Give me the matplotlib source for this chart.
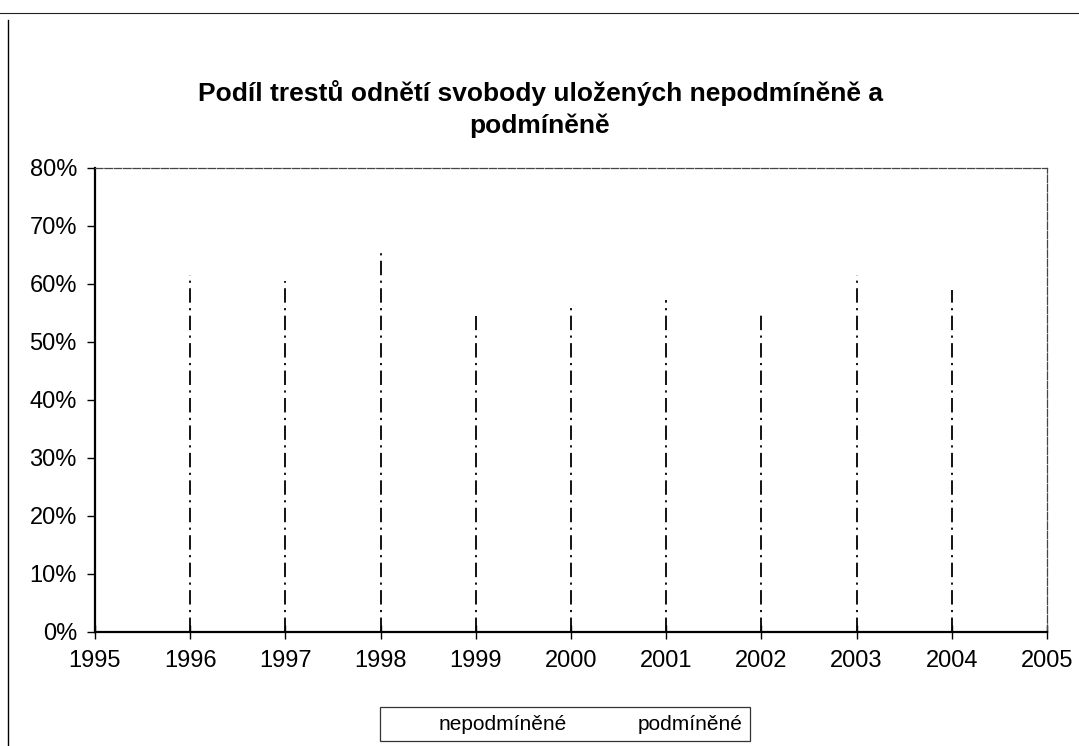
import matplotlib
matplotlib.use("Agg")
import matplotlib.pyplot as plt
from matplotlib.lines import Line2D
from matplotlib.ticker import FuncFormatter

plt.rcParams['font.family'] = ['Liberation Sans', 'DejaVu Sans']

# Data
years = [1995, 1996, 1997, 1998, 1999, 2000, 2001, 2002, 2003, 2004, 2005]
drop_years = [1996, 1997, 1998, 1999, 2000, 2001, 2002, 2003, 2004]
drop_values = [61.5, 60.5, 66.0, 54.5, 56.0, 57.2, 54.7, 61.5, 59.0]
y_ticks = [0, 10, 20, 30, 40, 50, 60, 70, 80]
series_labels = ["nepodmíněné", "podmíněné"]
title = "Podíl trestů odnětí svobody uložených nepodmíněně a\npodmíněně"

W, H = 1079, 746
fig = plt.figure(figsize=(W / 100, H / 100), dpi=100)
fig.patch.set_facecolor('white')

ax = fig.add_axes([95 / W, (H - 632) / H, (1047 - 95) / W, (632 - 168) / H])

ax.vlines(drop_years, 0, drop_values, colors='black', linewidth=1.3,
          linestyles=[(0, (8, 3, 1.2, 3))])

ax.set_xlim(years[0], years[-1])
ax.set_ylim(0, 80)
ax.set_xticks(years)
ax.set_xticklabels([str(y) for y in years])
ax.set_yticks(y_ticks)
ax.yaxis.set_major_formatter(FuncFormatter(lambda v, p: f"{int(v)}%"))

ax.tick_params(axis='y', direction='out', length=6, width=1, labelsize=17, pad=7)
ax.tick_params(axis='x', direction='inout', length=10, width=1, labelsize=17, pad=8)

for s in ['left', 'bottom']:
    ax.spines[s].set_linewidth(1.6)
    ax.spines[s].set_color('black')
for s in ['top', 'right']:
    ax.spines[s].set_linewidth(0.9)
    ax.spines[s].set_color('#444444')
    ax.spines[s].set_linestyle((0, (6, 1.5)))

fig.text(540 / W, 1 - 109 / H, title, ha='center', va='center',
         fontsize=19, fontweight='bold', linespacing=1.35)

handles = [Line2D([], [], color='white', linewidth=1.5) for _ in series_labels]
leg = fig.legend(handles, series_labels, loc='center', ncol=2,
                 bbox_to_anchor=(565 / W, 1 - 724 / H), fontsize=15,
                 frameon=True, fancybox=False, borderpad=0.35,
                 handlelength=2.0, handletextpad=0.5, columnspacing=0.9)
leg.get_frame().set_edgecolor('black')
leg.get_frame().set_linewidth(0.9)

# chart-area border
fig.add_artist(Line2D([0, 1], [1 - 13 / H, 1 - 13 / H], transform=fig.transFigure,
                      color='#222222', linewidth=0.8))
fig.add_artist(Line2D([8 / W, 8 / W], [1 - 20 / H, 0], transform=fig.transFigure,
                      color='black', linewidth=1.0))

fig.savefig("out.png", dpi=100, facecolor='white')
